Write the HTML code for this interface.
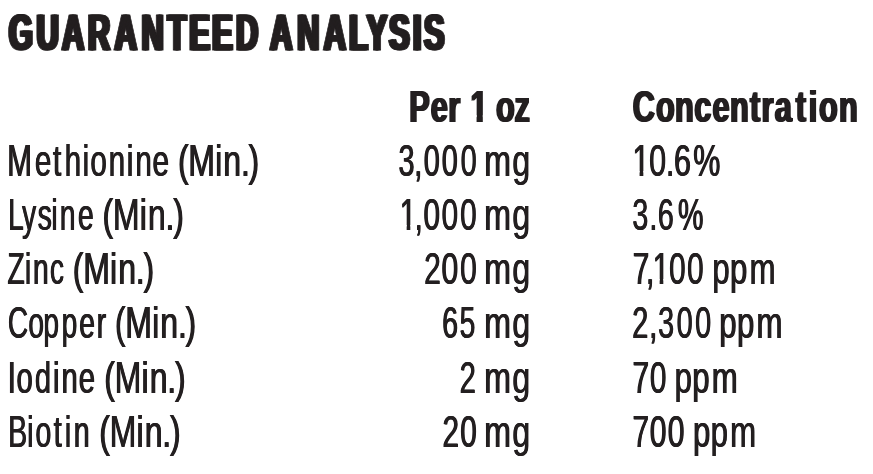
<!DOCTYPE html>
<html lang="en"><head><meta charset="utf-8"><title>Guaranteed Analysis</title>
<style>html,body{margin:0;padding:0;background:#fff}
body{width:873px;height:474px;overflow:hidden}
svg{display:block}
text{font-family:"Liberation Sans",sans-serif;fill:#231f20;white-space:pre}
.t{font-size:49.6px;font-weight:700;text-shadow:2.1px 0 0 #231f20,-2.1px 0 0 #231f20;stroke:#231f20;stroke-width:1.0px;stroke-linejoin:round}
.b{font-size:44.5px;font-weight:700;text-shadow:1.25px 0 0 #231f20,-1.25px 0 0 #231f20}
.r{font-size:43.6px;font-weight:400;text-shadow:0.55px 0 0 #231f20,-0.55px 0 0 #231f20}
</style></head><body>
<svg width="873" height="474" viewBox="0 0 873 474">
<text class="t" transform="translate(0 50) scale(0.6200 1)" x="14.4 59 100 141.7 184.9 228.3 270.1 305.5 342.2 380.6" y="0">GUARANTEED</text>
<text class="t" transform="translate(0 50) scale(0.6200 1)" x="435.6 479.4 522.1 563.1 591.5 627.6 665.9 683.8" y="0">ANALYSIS</text>
<text class="b" transform="translate(0 121.6) scale(0.6900 1)" x="593.1 624.4 649.8" y="0">Per</text>
<text class="b" transform="translate(0 121.6) scale(0.6900 1)" x="681.8" y="0">1</text>
<text class="b" transform="translate(0 121.6) scale(0.6900 1)" x="718.9 745.6" y="0">oz</text>
<text class="b" transform="translate(0 121.6) scale(0.6900 1)" x="917 950.9 978.4 1006 1032.7 1057.9 1086.8 1103.7 1122.9 1153.3 1172.2 1187.1 1216.1" y="0">Concentration</text>
<text class="r" transform="translate(0 175.7) scale(0.6792 1)" x="10.6 51.3 78.1 95.2 121.6 133 160 186.6 199.3 224.6" y="0">Methionine</text>
<text class="r" transform="translate(0 175.7) scale(0.7350 1)" x="242.1 256.2 292.7 303.8 327.8 338.2" y="0">(Min.)</text>
<text class="r" transform="translate(0 175.7) scale(0.6603 1)" x="603.5 627.4 641.7 669.1 697.6" y="0">3,000</text>
<text class="r" transform="translate(0 175.7) scale(0.7350 1)" x="658.9 697.1" y="0">mg</text>
<text class="r" transform="translate(0 175.7) scale(0.6996 1)" x="904 927.9 951.8 963.5 991" y="0">10.6%</text>
<text class="r" transform="translate(0 229.9) scale(0.6450 1)" x="12.6 34.2 58.5 79.7 92.8 121" y="0">Lysine</text>
<text class="r" transform="translate(0 229.9) scale(0.7350 1)" x="139.5 153.6 190.1 201.2 225.2 235.7" y="0">(Min.)</text>
<text class="r" transform="translate(0 229.9) scale(0.6791 1)" x="588.7 610.5 623.7 650.3 677.6" y="0">1,000</text>
<text class="r" transform="translate(0 229.9) scale(0.7350 1)" x="658.9 697.1" y="0">mg</text>
<text class="r" transform="translate(0 229.9) scale(0.6564 1)" x="963.3 989.4 1002.2 1032.9" y="0">3.6%</text>
<text class="r" transform="translate(0 284.1) scale(0.6450 1)" x="11.7 38.6 51.2 77.4" y="0">Zinc</text>
<text class="r" transform="translate(0 284.1) scale(0.7350 1)" x="99.1 113.2 149.7 160.8 184.8 195.3" y="0">(Min.)</text>
<text class="r" transform="translate(0 284.1) scale(0.6876 1)" x="616.9 642 669.1" y="0">200</text>
<text class="r" transform="translate(0 284.1) scale(0.7350 1)" x="658.9 697.1" y="0">mg</text>
<text class="r" transform="translate(0 284.1) scale(0.6803 1)" x="930.2 949.6 959.5 983.5 1010" y="0">7,100</text>
<text class="r" transform="translate(0 284.1) scale(0.7150 1)" x="996.3 1021 1048.4" y="0">ppm</text>
<text class="r" transform="translate(0 338.3) scale(0.6450 1)" x="12.1 43.9 67.2 95.6 122.8 150" y="0">Copper</text>
<text class="r" transform="translate(0 338.3) scale(0.7350 1)" x="156.3 170.4 207 218.1 242.1 252.5" y="0">(Min.)</text>
<text class="r" transform="translate(0 338.3) scale(0.6495 1)" x="680.9 707.6" y="0">65</text>
<text class="r" transform="translate(0 338.3) scale(0.7350 1)" x="658.9 697.1" y="0">mg</text>
<text class="r" transform="translate(0 338.3) scale(0.6604 1)" x="957.3 983.2 996.5 1024.6 1052.6" y="0">2,300</text>
<text class="r" transform="translate(0 338.3) scale(0.7150 1)" x="1006 1030.7 1058" y="0">ppm</text>
<text class="r" transform="translate(0 392.5) scale(0.6694 1)" x="11.6 24.7 52.1 79.2 91.8 117.6" y="0">Iodine</text>
<text class="r" transform="translate(0 392.5) scale(0.7350 1)" x="141.9 156 192.6 203.7 227.6 238.1" y="0">(Min.)</text>
<text class="r" transform="translate(0 392.5) scale(0.6726 1)" x="683.3" y="0">2</text>
<text class="r" transform="translate(0 392.5) scale(0.7350 1)" x="658.9 697.1" y="0">mg</text>
<text class="r" transform="translate(0 392.5) scale(0.6835 1)" x="925.3 950.8" y="0">70</text>
<text class="r" transform="translate(0 392.5) scale(0.7150 1)" x="943.5 968.2 995.5" y="0">ppm</text>
<text class="r" transform="translate(0 446.7) scale(0.6560 1)" x="12.4 41.4 54 81.9 98.9 112.5" y="0">Biotin</text>
<text class="r" transform="translate(0 446.7) scale(0.7350 1)" x="135.1 149.2 185.8 196.9 220.8 231.3" y="0">(Min.)</text>
<text class="r" transform="translate(0 446.7) scale(0.6803 1)" x="650.4 676.5" y="0">20</text>
<text class="r" transform="translate(0 446.7) scale(0.7350 1)" x="658.9 697.1" y="0">mg</text>
<text class="r" transform="translate(0 446.7) scale(0.6881 1)" x="919.1 944.2 970.5" y="0">700</text>
<text class="r" transform="translate(0 446.7) scale(0.7150 1)" x="969.2 993.9 1021.2" y="0">ppm</text>
<rect x="470.49" y="115" width="6.08" height="9" fill="#fff"/>
<rect x="482.81" y="115" width="5.69" height="9" fill="#fff"/>
<rect x="633.37" y="171" width="6.2" height="7" fill="#fff"/>
<rect x="643.33" y="171" width="5.96" height="7" fill="#fff"/>
<rect x="400.62" y="225" width="6.04" height="7" fill="#fff"/>
<rect x="410.32" y="225" width="5.81" height="7" fill="#fff"/>
<rect x="653.59" y="279" width="6.05" height="7" fill="#fff"/>
<rect x="663.31" y="279" width="5.82" height="7" fill="#fff"/>

</svg>
</body></html>
